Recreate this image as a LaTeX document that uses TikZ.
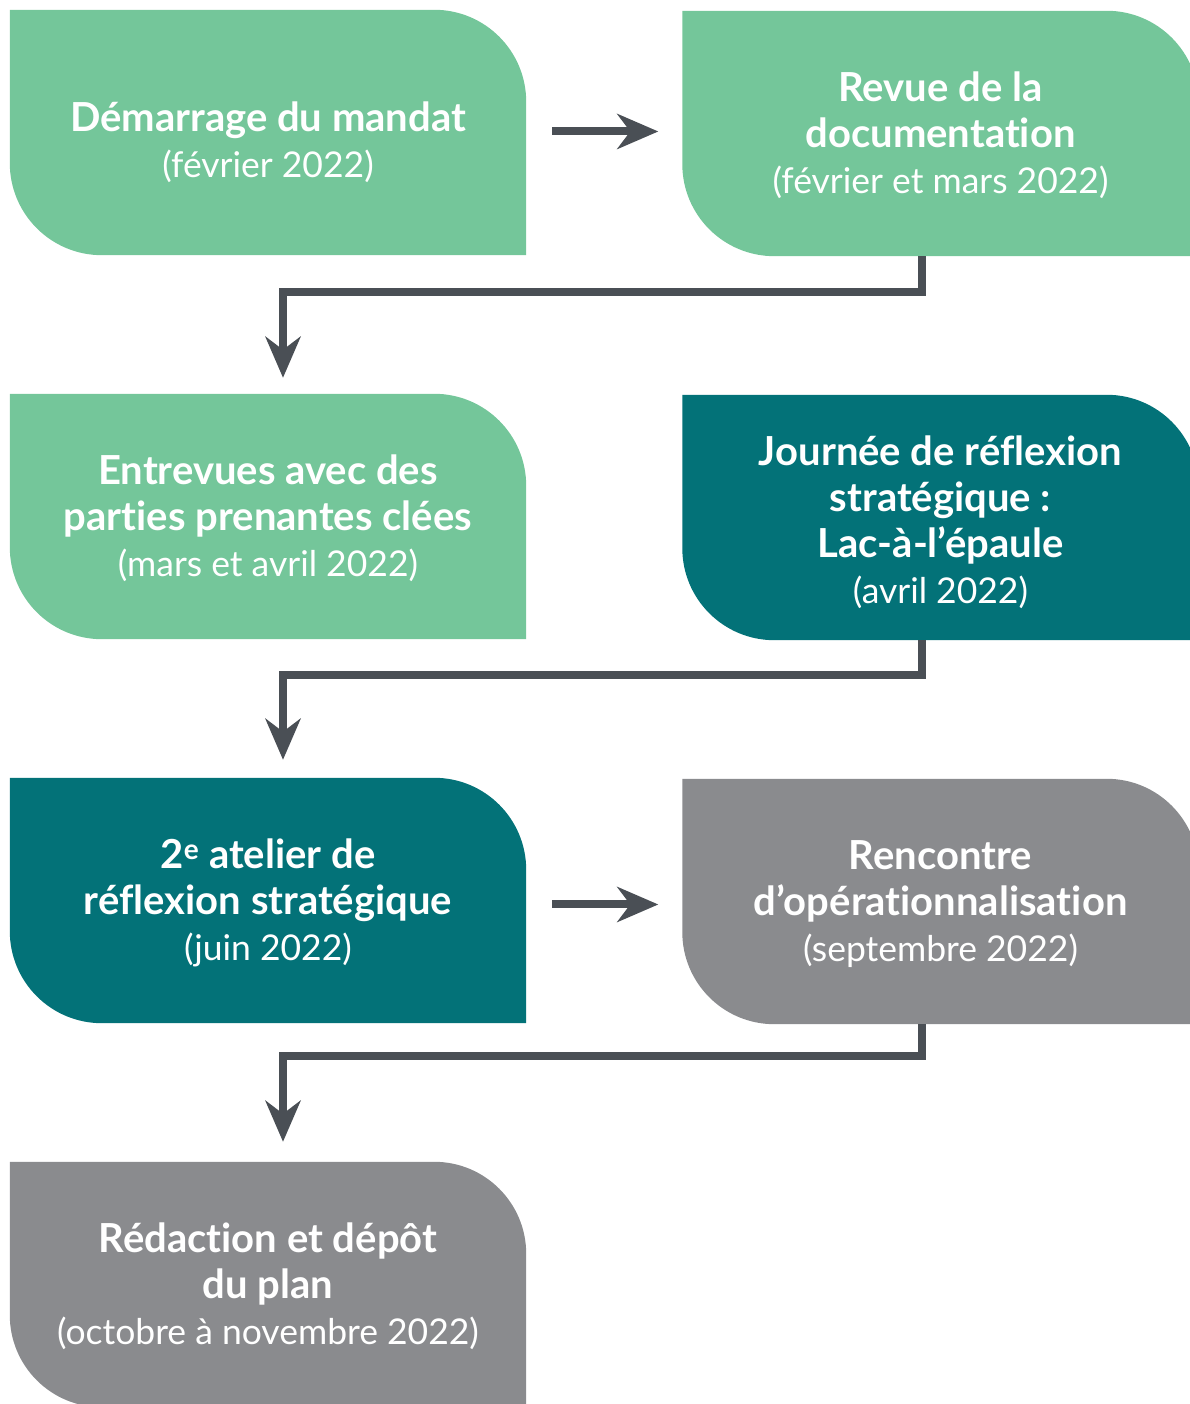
\documentclass[tikz,border=0pt]{standalone}
\usepackage{fontspec}
\setmainfont{Lato}[Ligatures=NoCommon]
\usetikzlibrary{arrows.meta,backgrounds}
\definecolor{vert}{HTML}{74C69A}
\definecolor{sarcelle}{HTML}{037278}
\definecolor{gris}{HTML}{8A8B8E}
\definecolor{fleche}{HTML}{4A4F55}
\newcommand\ttl[1]{{\fontsize{40}{46}\bfseries\selectfont #1}}
\begin{document}
\begin{tikzpicture}[x=1pt,y=1pt,
  box/.style={minimum width=516pt, minimum height=245pt, inner sep=0pt},
  txt/.style={inner sep=0pt, align=center, text=white, font=\fontsize{35.5}{46}\selectfont},
  conn/.style={draw=fleche, line width=8pt, line join=miter,
    -{Stealth[length=41pt,width=35pt,inset=13pt]}}]
\useasboundingbox (0,0) rectangle (1189,1404);

% boxes
\node[box] (n1) at (268,1271.5) {};
\node[box] (n2) at (940.5,1270.5) {};
\node[box] (n3) at (268,887.5) {};
\node[box] (n4) at (940.5,886.5) {};
\node[box] (n5) at (268,503.5) {};
\node[box] (n6) at (940.5,502.5) {};
\node[box] (n7) at (268,119.5) {};

% texts
\node[txt] (t1) at ([yshift=-9.5pt]n1.center) {\ttl{Démarrage du mandat}\\(février 2022)};
\node[txt] (t2) at ([yshift=-2pt]n2.center) {\ttl{Revue de la}\\\ttl{documentation}\\(février et mars 2022)};
\node[txt] (t3) at ([yshift=-2pt]n3.center) {\ttl{Entrevues avec des}\\\ttl{parties prenantes clées}\\(mars et avril 2022)};
\node[txt] (t4) at ([yshift=-4.5pt]n4.center) {\ttl{Journée de réflexion}\\\ttl{stratégique :}\\\ttl{Lac-à-l’épaule}\\(avril 2022)};
\node[txt] (t5) at ([yshift=-2pt]n5.center) {\ttl{2\textsuperscript{e} atelier de}\\\ttl{réflexion stratégique}\\(juin 2022)};
\node[txt] (t6) at ([yshift=-3pt]n6.center) {\ttl{Rencontre}\\\ttl{d’opérationnalisation}\\(septembre 2022)};
\node[txt] (t7) at ([yshift=-1.5pt]n7.center) {\ttl{Rédaction et dépôt}\\\ttl{du plan}\\(octobre à novembre 2022)};

\begin{scope}[on background layer]
\foreach \n/\c in {n1/vert,n2/vert,n3/vert,n4/sarcelle,n5/sarcelle,n6/gris,n7/gris}{
  \fill[\c] (\n.north west) -- ([xshift=-92pt]\n.north east)
    arc[start angle=90,end angle=0,radius=92pt] -- (\n.south east)
    -- ([xshift=92pt]\n.south west)
    arc[start angle=270,end angle=180,radius=92pt] -- cycle;
}
\end{scope}

\draw[conn, shorten <=26pt, shorten >=24pt] ([yshift=1pt]n1.east) -- ([yshift=1pt]n1.east -| n2.west);
\draw[conn] ([xshift=-18.5pt]n2.south) -- ++(0,-36) -| ([xshift=15pt,yshift=16pt]n3.north);
\draw[conn] ([xshift=-18.5pt]n4.south) -- ++(0,-35) -| ([xshift=15pt,yshift=18pt]n5.north);
\draw[conn, shorten <=26pt, shorten >=24pt] ([yshift=-4pt]n5.east) -- ([yshift=-4pt]n5.east -| n6.west);
\draw[conn] ([xshift=-18.5pt]n6.south) -- ++(0,-32) -| ([xshift=15pt,yshift=20pt]n7.north);
\end{tikzpicture}
\end{document}
